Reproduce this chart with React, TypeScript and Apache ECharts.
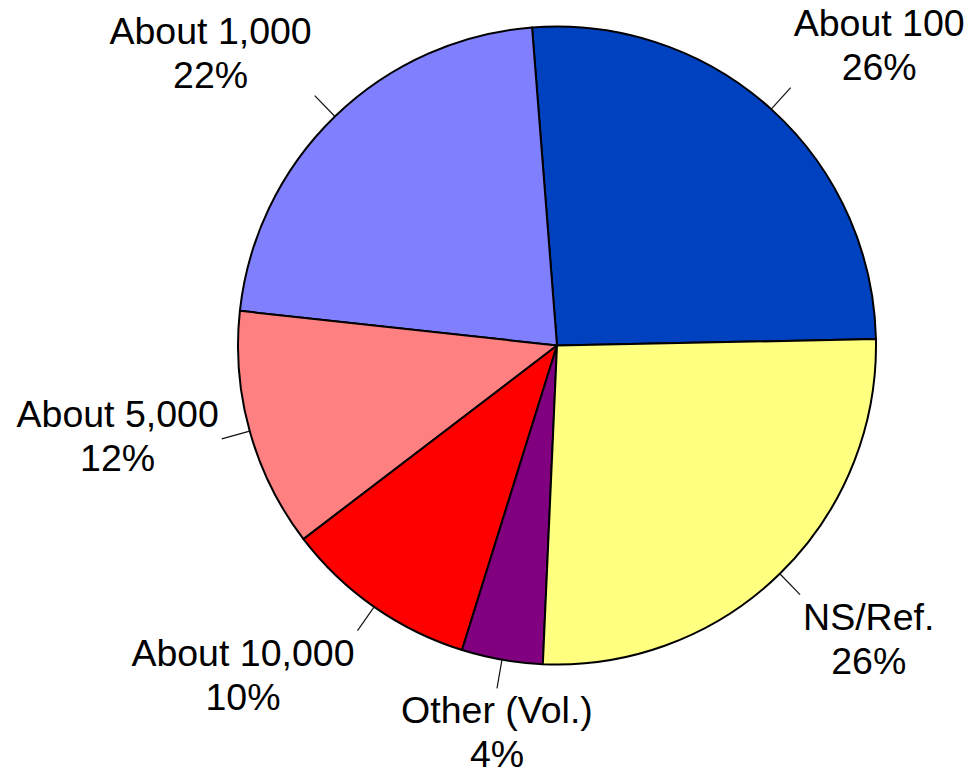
import React, { useEffect, useRef } from "react";
import * as echarts from "echarts";

const categories = ["About 100", "About 1,000", "About 5,000", "About 10,000", "Other (Vol.)", "NS/Ref."];
const values = [25.9, 22.0, 12.1, 9.8, 4.1, 26.0];
const colors = ["#0041C0", "#8080FF", "#FF8080", "#FF0000", "#800080", "#FFFF80"];

const TICK = 29;
const GAP = 3;

export default function App() {
  const ref = useRef<HTMLDivElement>(null);
  useEffect(() => {
    document.body.style.margin = "0";
    const chart = echarts.init(ref.current!, null, { renderer: "svg" });
    chart.setOption({
      animation: false,
      backgroundColor: "#ffffff",
      series: [
        {
          type: "pie",
          center: [557, 345.5],
          radius: 319,
          startAngle: 1.15,
          clockwise: false,
          avoidLabelOverlap: false,
          silent: true,
          data: categories.map((name, i) => ({
            name,
            value: values[i],
            itemStyle: { color: colors[i] },
          })),
          itemStyle: { borderColor: "#000", borderWidth: 2 },
          label: {
            show: true,
            position: "outside",
            formatter: (p: any) => `${p.name}\n${Math.round(p.value)}%`,
            fontFamily: "Liberation Sans, Arial, sans-serif",
            fontSize: 37.5,
            lineHeight: 44,
            color: "#000",
          },
          labelLine: {
            show: true,
            length: TICK,
            length2: 0,
            lineStyle: { color: "#111", width: 1.2 },
          },
          labelLayout: (params: any) => {
            const pts = params.labelLinePoints;
            if (!pts || pts.length < 2) return {};
            const [x0, y0] = pts[0];
            const [x1, y1] = pts[1];
            const dx = x1 - x0;
            const dy = y1 - y0;
            const len = Math.hypot(dx, dy) || 1;
            const ux = dx / len;
            const uy = dy / len;
            const ax = x0 + ux * TICK;
            const ay = y0 + uy * TICK;
            const w = params.labelRect.width;
            let x = ax;
            if (ux > 0.3) x = ax + GAP + w / 2;
            else if (ux < -0.3) x = ax - GAP - w / 2;
            let va = "middle";
            let y = ay - 3;
            if (uy < -0.4) {
              va = "bottom";
              y = ay + 1;
            } else if (uy > 0.4) {
              va = "top";
              y = ay;
            }
            return {
              x,
              y,
              align: "center",
              verticalAlign: va,
              labelLinePoints: [
                [x0, y0],
                [ax, ay],
              ],
            };
          },
          emphasis: { disabled: true },
        },
      ],
    });
    return () => chart.dispose();
  }, []);
  return (
    <div
      ref={ref}
      style={{ position: "fixed", left: 0, top: 0, width: 969, height: 779 }}
    />
  );
}
